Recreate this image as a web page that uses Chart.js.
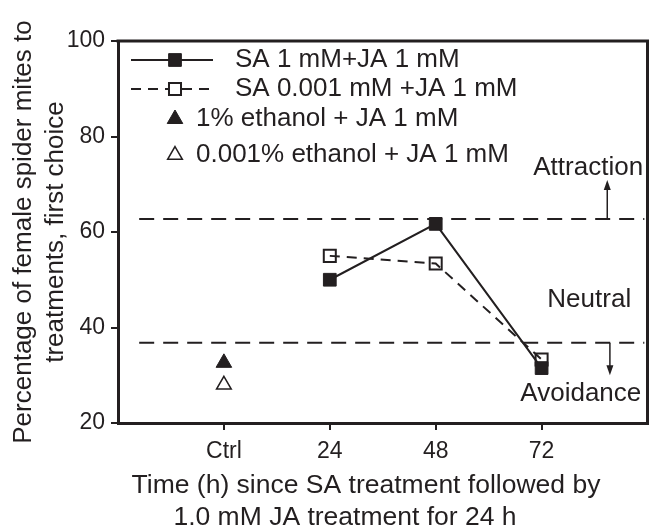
<!DOCTYPE html>
<html>
<head>
<meta charset="utf-8">
<script src="https://cdn.jsdelivr.net/npm/chart.js@4/dist/chart.umd.min.js"></script>
<style>
    html, body { margin: 0; padding: 0; background: #fff; }
    #wrap { width: 658px; height: 528px; }
</style>
</head>
<body>
<div id="wrap"><canvas id="chart" width="658" height="528"></canvas></div>
<script>
// Data
const xLabels = ['Ctrl', '24', '48', '72'];
const xPos = [0, 1, 2, 3];
const saHigh = [null, 50, 61.7, 31.5];       // SA 1 mM + JA 1 mM
const saLow = [null, 55, 53.4, 33.3];        // SA 0.001 mM + JA 1 mM
const ethanolHigh = [32.6, null, null, null]; // 1% ethanol + JA 1 mM
const ethanolLow = [28, null, null, null];    // 0.001% ethanol + JA 1 mM
const thresholdY = [62.7, 36.8];
const thresholdX = [-0.8, 3.97];

const seriesNames = [
    'SA 1 mM+JA 1 mM',
    'SA 0.001 mM +JA 1 mM',
    '1% ethanol + JA 1 mM',
    '0.001% ethanol + JA 1 mM'
];

// Zone annotations
const zoneLabels = ['Attraction', 'Neutral', 'Avoidance'];
const zoneLabelX = [3.44, 3.45, 3.37];
const zoneLabelY = [73.4, 45.8, 26.1];
const arrowX = [3.62, 3.645];
const arrowFrom = [62.7, 36.8];
const arrowTo = [70.9, 30.0];

const ink = '#231f20';
const fontFamily = "'Liberation Sans', Arial, Helvetica, sans-serif";

function toPoints(values) {
    return xPos.map((x, i) => ({ x, y: values[i] })).filter(p => p.y !== null);
}

const datasets = [
    {
        label: seriesNames[0],
        data: toPoints(saHigh),
        showLine: true,
        borderColor: ink,
        borderWidth: 2,
        pointStyle: 'rect',
        pointRadius: 9,
        pointBackgroundColor: ink,
        pointBorderColor: ink,
        pointBorderWidth: 1
    },
    {
        label: seriesNames[1],
        data: toPoints(saLow),
        showLine: true,
        borderColor: ink,
        borderWidth: 2,
        borderDash: [10, 7],
        pointStyle: 'rect',
        pointRadius: 8.5,
        pointBackgroundColor: 'rgba(255,255,255,0)',
        pointBorderColor: ink,
        pointBorderWidth: 2
    },
    {
        label: seriesNames[2],
        data: toPoints(ethanolHigh),
        pointStyle: 'triangle',
        pointRadius: 9,
        pointBackgroundColor: ink,
        pointBorderColor: ink,
        pointBorderWidth: 1
    },
    {
        label: seriesNames[3],
        data: toPoints(ethanolLow),
        pointStyle: 'triangle',
        pointRadius: 8.5,
        pointBackgroundColor: '#fff',
        pointBorderColor: ink,
        pointBorderWidth: 1.5
    }
];

thresholdY.forEach(v => {
    datasets.push({
        label: 'threshold',
        data: thresholdX.map(x => ({ x, y: v })),
        showLine: true,
        borderColor: ink,
        borderWidth: 2,
        borderDash: [15, 9],
        pointRadius: 0
    });
});

// Top and right edges of the frame
const framePlugin = {
    id: 'frame',
    afterDraw(chart) {
        const { ctx, chartArea: a } = chart;
        ctx.save();
        ctx.strokeStyle = ink;
        ctx.lineWidth = 3;
        ctx.beginPath();
        ctx.moveTo(a.left - 1.5, a.top);
        ctx.lineTo(a.right, a.top);
        ctx.lineTo(a.right, a.bottom + 1.5);
        ctx.stroke();
        ctx.restore();
    }
};

// Legend drawn inside the plot
const legendPlugin = {
    id: 'innerLegend',
    afterDraw(chart) {
        const ctx = chart.ctx;
        const rows = [
            { ds: 0, y: 60, line: true, textX: 235 },
            { ds: 1, y: 89, line: true, textX: 235 },
            { ds: 2, y: 119, line: false, textX: 196 },
            { ds: 3, y: 155, line: false, textX: 196 }
        ];
        ctx.save();
        rows.forEach(r => {
            const d = datasets[r.ds];
            if (r.line) {
                ctx.strokeStyle = ink;
                ctx.lineWidth = 2;
                ctx.setLineDash(d.borderDash || []);
                ctx.beginPath();
                ctx.moveTo(131, r.y);
                ctx.lineTo(213, r.y);
                ctx.stroke();
                ctx.setLineDash([]);
            }
            ctx.fillStyle = d.pointBackgroundColor === 'rgba(255,255,255,0)' ? '#fff' : d.pointBackgroundColor;
            ctx.strokeStyle = d.pointBorderColor;
            ctx.lineWidth = d.pointBorderWidth;
            Chart.helpers.drawPoint(ctx, {
                pointStyle: d.pointStyle,
                radius: d.pointRadius,
                rotation: 0,
                borderWidth: d.pointBorderWidth
            }, 175, r.y);
            ctx.fillStyle = ink;
            ctx.font = '26px ' + fontFamily;
            ctx.textAlign = 'left';
            ctx.textBaseline = 'middle';
            ctx.fillText(d.label, r.textX, r.y);
        });
        ctx.restore();
    }
};

// Zone labels, arrows and the two-line x title
const notesPlugin = {
    id: 'notes',
    afterDraw(chart) {
        const { ctx, scales: { x, y } } = chart;
        ctx.save();
        ctx.fillStyle = ink;
        ctx.font = '26px ' + fontFamily;
        ctx.textAlign = 'center';
        ctx.textBaseline = 'middle';
        zoneLabels.forEach((t, i) => {
            ctx.fillText(t, x.getPixelForValue(zoneLabelX[i]), y.getPixelForValue(zoneLabelY[i]));
        });

        ctx.strokeStyle = ink;
        ctx.lineWidth = 1.5;
        arrowX.forEach((ax, i) => {
            const px = x.getPixelForValue(ax);
            const y0 = y.getPixelForValue(arrowFrom[i]);
            const y1 = y.getPixelForValue(arrowTo[i]);
            const dir = y1 < y0 ? 1 : -1;
            ctx.beginPath();
            ctx.moveTo(px, y0);
            ctx.lineTo(px, y1 + dir * 6);
            ctx.stroke();
            ctx.beginPath();
            ctx.moveTo(px, y1);
            ctx.lineTo(px - 3.5, y1 + dir * 10);
            ctx.lineTo(px + 3.5, y1 + dir * 10);
            ctx.closePath();
            ctx.fill();
        });

        ctx.font = '26.5px ' + fontFamily;
        ctx.fillText('Time (h) since SA treatment followed by', 366, 486);
        ctx.fillText('1.0 mM JA treatment for 24 h', 345, 518);
        ctx.restore();
    }
};

const ctx = document.getElementById('chart').getContext('2d');
new Chart(ctx, {
    type: 'scatter',
    data: { datasets },
    options: {
        responsive: false,
        animation: false,
        devicePixelRatio: 1,
        layout: { padding: { top: 41, right: 6, left: 0, bottom: 0 } },
        plugins: {
            legend: { display: false },
            tooltip: { enabled: false }
        },
        scales: {
            x: {
                type: 'linear',
                min: -1,
                max: 4,
                afterBuildTicks: scale => {
                    scale.ticks = xPos.map(v => ({ value: v }));
                },
                afterFit: scale => { scale.height = 105; },
                ticks: {
                    callback: v => xLabels[xPos.indexOf(v)] ?? '',
                    color: ink,
                    font: { family: fontFamily, size: 23 },
                    padding: 8,
                    maxRotation: 0,
                    autoSkip: false
                },
                grid: { drawOnChartArea: false, drawTicks: true, tickLength: 7, color: ink, lineWidth: 2 },
                border: { color: ink, width: 3 }
            },
            y: {
                min: 20,
                max: 100,
                afterFit: scale => { scale.width = 118; },
                ticks: {
                    stepSize: 20,
                    color: ink,
                    font: { family: fontFamily, size: 23 },
                    padding: 6
                },
                grid: { drawOnChartArea: false, drawTicks: true, tickLength: 7, color: ink, lineWidth: 2 },
                border: { color: ink, width: 3 },
                title: {
                    display: true,
                    text: ['Percentage of female spider mites to', 'treatments, first choice'],
                    color: ink,
                    font: { family: fontFamily, size: 26, lineHeight: 1.23 },
                    padding: { top: 8, bottom: 0 }
                }
            }
        }
    },
    plugins: [framePlugin, legendPlugin, notesPlugin]
});
</script>
</body>
</html>
